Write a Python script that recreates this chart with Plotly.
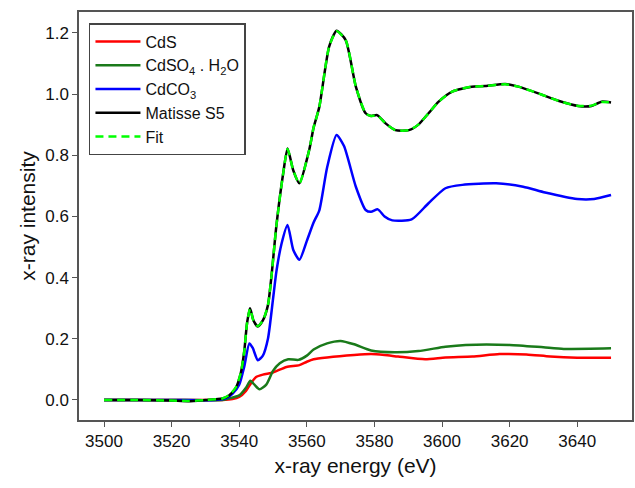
import plotly.graph_objects as go

# ---- data ----
cds_x = [3500, 3520, 3535, 3538, 3540, 3542, 3543.5, 3545, 3547, 3550, 3554, 3557.8, 3560, 3562,
         3566, 3574, 3579, 3583, 3587, 3595, 3601, 3609, 3617, 3625, 3632, 3640, 3650]
cds_y = [0.0, 0.0, 0.0, 0.003, 0.01, 0.03, 0.055, 0.075, 0.083, 0.09, 0.108, 0.114, 0.125, 0.133,
         0.139, 0.147, 0.150, 0.147, 0.142, 0.133, 0.139, 0.142, 0.150, 0.149, 0.142, 0.138, 0.138]

cdso4_x = [3500, 3520, 3535, 3537, 3540, 3542, 3543.3, 3544.5, 3546, 3548, 3550, 3552, 3554.5, 3557.5,
           3560, 3562, 3566, 3570, 3574, 3579, 3586, 3593, 3601, 3607, 3620, 3630, 3636, 3650]
cdso4_y = [0.0, 0.0, 0.0, 0.005, 0.015, 0.04, 0.063, 0.05, 0.035, 0.05, 0.095, 0.12, 0.133, 0.131,
           0.145, 0.165, 0.185, 0.193, 0.182, 0.162, 0.156, 0.160, 0.174, 0.180, 0.180, 0.172, 0.167, 0.169]

cdco3_x = [3500, 3520, 3533, 3536, 3538, 3540, 3541.5, 3543, 3544, 3545.5, 3547, 3548.5, 3550, 3551,
           3552.5, 3554.3, 3556, 3557.8, 3560, 3562, 3563.7, 3566, 3568.8, 3571, 3574.5, 3577.4, 3579,
           3581, 3583, 3585.3, 3591, 3596, 3601, 3606, 3616, 3624, 3630.5, 3640, 3645, 3650]
cdco3_y = [0.0, 0.0, 0.0, 0.005, 0.02, 0.05, 0.11, 0.185, 0.17, 0.13, 0.145, 0.2, 0.33, 0.42,
           0.51, 0.572, 0.49, 0.458, 0.52, 0.58, 0.62, 0.76, 0.866, 0.83, 0.697, 0.621, 0.615,
           0.623, 0.60, 0.587, 0.59, 0.643, 0.692, 0.703, 0.708, 0.697, 0.678, 0.657, 0.657, 0.67]

s5_x = [3500, 3510, 3520, 3525, 3530, 3535, 3537, 3539, 3540.5, 3541.5, 3542.3, 3543.2, 3544.2, 3545.5,
        3547, 3548.5, 3549.5, 3551, 3553, 3554.3, 3556, 3557.8, 3560.7, 3562, 3563.7, 3566.6, 3568.8,
        3571.5, 3574.5, 3577.4, 3579, 3580.8, 3583.3, 3586.2, 3590.2, 3593, 3596, 3599, 3603, 3608.8,
        3612.8, 3618.7, 3622.6, 3628.5, 3634.4, 3640.3, 3644.2, 3647.2, 3650]
s5_y = [0.0, 0.0, -0.002, -0.004, 0.0, 0.005, 0.015, 0.04, 0.09, 0.16, 0.25, 0.30, 0.26, 0.24,
        0.26, 0.31, 0.40, 0.57, 0.74, 0.822, 0.75, 0.708, 0.817, 0.89, 0.958, 1.155, 1.207,
        1.176, 1.024, 0.937, 0.928, 0.931, 0.904, 0.882, 0.882, 0.90, 0.937, 0.975, 1.008, 1.024,
        1.026, 1.033, 1.024, 1.002, 0.978, 0.961, 0.961, 0.975, 0.972]

fit_x = list(s5_x)
fit_y = [0.0, 0.0, -0.002, -0.003, 0.0, 0.005, 0.016, 0.041, 0.09, 0.16, 0.25, 0.298, 0.26, 0.241,
         0.26, 0.31, 0.40, 0.57, 0.74, 0.82, 0.75, 0.708, 0.817, 0.89, 0.958, 1.155, 1.205,
         1.176, 1.024, 0.937, 0.928, 0.930, 0.904, 0.882, 0.882, 0.90, 0.937, 0.975, 1.008, 1.024,
         1.026, 1.032, 1.024, 1.002, 0.978, 0.961, 0.962, 0.974, 0.972]

x_ticks = [3500, 3520, 3540, 3560, 3580, 3600, 3620, 3640]
y_ticks = [0.0, 0.2, 0.4, 0.6, 0.8, 1.0, 1.2]
y_tick_labels = ["0.0", "0.2", "0.4", "0.6", "0.8", "1.0", "1.2"]

FONT = "Liberation Sans, Arial, sans-serif"

fig = go.Figure()
fig.add_trace(go.Scatter(x=cds_x, y=cds_y, mode="lines", name="CdS",
                         line=dict(color="#ff0000", width=2.5, shape="spline", smoothing=0.6)))
fig.add_trace(go.Scatter(x=cdso4_x, y=cdso4_y, mode="lines", name="CdSO<sub>4</sub> . H<sub>2</sub>O",
                         line=dict(color="#1a7a1a", width=2.5, shape="spline", smoothing=0.6)))
fig.add_trace(go.Scatter(x=cdco3_x, y=cdco3_y, mode="lines", name="CdCO<sub>3</sub>",
                         line=dict(color="#0000ff", width=2.5, shape="spline", smoothing=0.6)))
fig.add_trace(go.Scatter(x=s5_x, y=s5_y, mode="lines", name="Matisse S5",
                         line=dict(color="#000000", width=2.5, shape="spline", smoothing=0.6)))
fig.add_trace(go.Scatter(x=fit_x, y=fit_y, mode="lines", name="Fit",
                         line=dict(color="#00ff00", width=2.5, dash="8px,5px", shape="spline", smoothing=0.6)))

axis_common = dict(showgrid=False, zeroline=False, showline=True, linecolor="#555555", linewidth=1.5,
                   mirror=True, ticks="outside", ticklen=5, tickwidth=1.2, tickcolor="#555555",
                   tickfont=dict(family=FONT, size=17, color="#111111"))

fig.update_layout(
    width=635, height=488,
    margin=dict(l=79, r=1, t=12, b=68),
    paper_bgcolor="white", plot_bgcolor="white",
    font=dict(family=FONT, color="#111111"),
    xaxis=dict(range=[3492.6, 3656.2], tickvals=x_ticks,
               title=dict(text="x-ray energy (eV)", font=dict(family=FONT, size=21), standoff=8),
               **axis_common),
    yaxis=dict(range=[-0.0654, 1.268], tickvals=y_ticks, ticktext=y_tick_labels,
               title=dict(text="x-ray intensity", font=dict(family=FONT, size=21), standoff=4),
               **axis_common),
    legend=dict(x=0.018, y=0.973, xanchor="left", yanchor="top",
                bgcolor="white", bordercolor="#444444", borderwidth=1.5,
                font=dict(family=FONT, size=16, color="#111111"),
                tracegroupgap=0, itemwidth=45),
    showlegend=True,
)

fig.write_html(
    "out.html",
    config={"displayModeBar": False},
    post_script="document.body.style.margin='0';document.body.style.padding='0';document.body.style.overflow='hidden';",
)
